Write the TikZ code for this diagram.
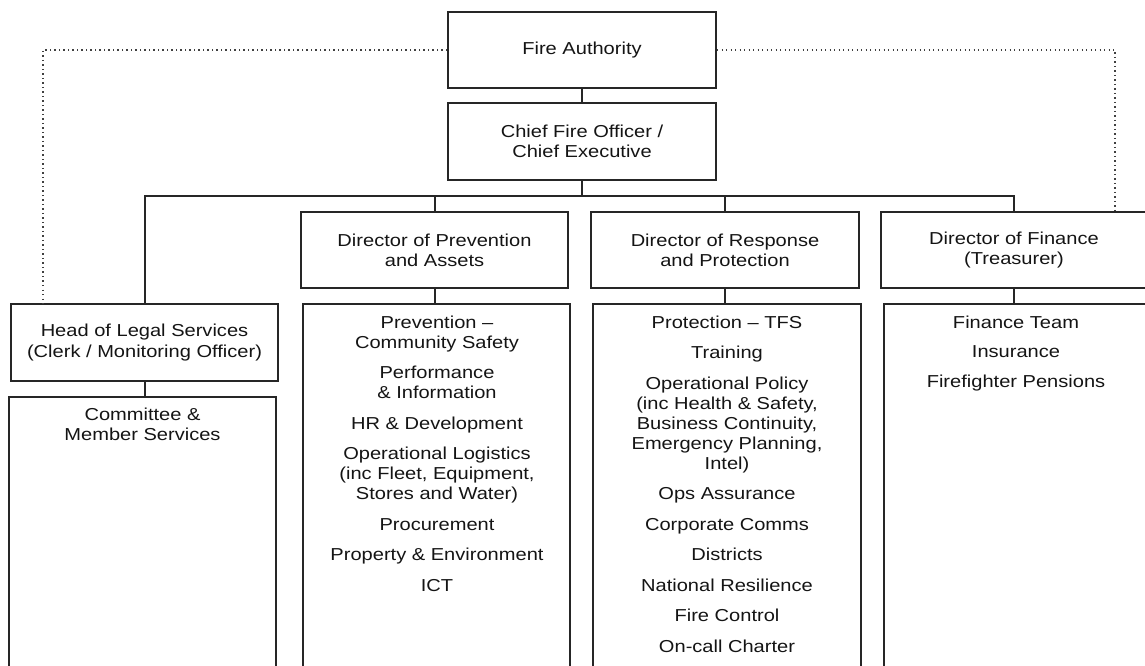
\documentclass[tikz,border=0pt]{standalone}
\usepackage{fontspec}
\setmainfont{Liberation Sans}[FakeStretch=1.16]
\begin{document}
\begin{tikzpicture}[x=1pt,y=-1pt,
  every node/.style={font=\fontsize{17.3}{20.3}\selectfont, text=black!92},
  box/.style={draw=black!85, line width=2pt, inner sep=0pt, align=center},
  openbox/.style={draw=black!85, line width=2pt, inner sep=0pt},
  conn/.style={draw=black!85, line width=2pt},
  dots/.style={draw=black!75, line width=1.5pt, dash pattern=on 1.3pt off 3.2pt},
  txt/.style={inner sep=0pt, anchor=base}]
\useasboundingbox (0,0) rectangle (1145,666);

% boxes
\node[box, minimum width=268pt, minimum height=76pt] (fa) at (582,50) {Fire Authority};
\node[box, minimum width=268pt, minimum height=77pt] (cfo) at (582,141.5) {Chief Fire Officer /\\Chief Executive};
\node[box, minimum width=267pt, minimum height=76pt] (dprev) at (434.5,250) {Director of Prevention\\and Assets};
\node[box, minimum width=268pt, minimum height=76pt] (dresp) at (725,250) {Director of Response\\and Protection};
\node[box, minimum width=266pt, minimum height=76pt] (dfin) at (1014,250) {Director of Finance\\(Treasurer)};
\node[box, minimum width=267pt, minimum height=77pt] (legal) at (144.5,342.5) {Head of Legal Services\\(Clerk / Monitoring Officer)};

% open-bottom boxes
\node[openbox, minimum width=267pt, minimum height=396pt] (sprev) at (436.5,502) {};
\node[openbox, minimum width=268pt, minimum height=396pt] (sresp) at (727,502) {};
\node[openbox, minimum width=264pt, minimum height=396pt] (sfin) at (1016,502) {};
\node[openbox, minimum width=267pt, minimum height=303pt] (comm) at (142.5,548.5) {};

% connectors
\coordinate (bus) at (582,196);
\draw[conn] (fa.south) -- (cfo.north);
\draw[conn] (cfo.south) -- (bus);
\draw[conn] (legal.north) |- (dfin.north |- bus) -- (dfin.north);
\draw[conn] (dprev.north |- bus) -- (dprev.north);
\draw[conn] (dresp.north |- bus) -- (dresp.north);
\draw[conn] (dprev.south) -- (dprev.south |- sprev.north);
\draw[conn] (dresp.south) -- (dresp.south |- sresp.north);
\draw[conn] (dfin.south) -- (dfin.south |- sfin.north);
\draw[conn] (legal.south) -- (legal.south |- comm.north);

% dotted lines
\coordinate (dl) at (43,304);
\coordinate (dr) at (1115,212);
\draw[dots] (fa.west) -| (dl);
\draw[dots] (fa.east) -| (dr);

% committee text
\node[txt] (c1) at (142.5,420) {Committee \&};
\node[txt] (c2) at (142.5,440) {Member Services};

% prevention text
\node[txt] (p1) at (437,328) {Prevention –};
\node[txt] (p2) at (437,348) {Community Safety};
\node[txt] (p3) at (437,378.5) {Performance};
\node[txt] (p4) at (437,398.5) {\& Information};
\node[txt] (p5) at (437,429) {HR \& Development};
\node[txt] (p6) at (437,459.5) {Operational Logistics};
\node[txt] (p7) at (437,479.5) {(inc Fleet, Equipment,};
\node[txt] (p8) at (437,499.5) {Stores and Water)};
\node[txt] (p9) at (437,530) {Procurement};
\node[txt] (p10) at (437,560.5) {Property \& Environment};
\node[txt] (p11) at (437,591) {ICT};

% response text
\node[txt] (r1) at (727,328) {Protection – TFS};
\node[txt] (r2) at (727,358.5) {Training};
\node[txt] (r3) at (727,389) {Operational Policy};
\node[txt] (r4) at (727,409) {(inc Health \& Safety,};
\node[txt] (r5) at (727,429) {Business Continuity,};
\node[txt] (r6) at (727,449) {Emergency Planning,};
\node[txt] (r7) at (727,469) {Intel)};
\node[txt] (r8) at (727,499.5) {Ops Assurance};
\node[txt] (r9) at (727,530) {Corporate Comms};
\node[txt] (r10) at (727,560.5) {Districts};
\node[txt] (r11) at (727,591) {National Resilience};
\node[txt] (r12) at (727,621.5) {Fire Control};
\node[txt] (r13) at (727,652) {On-call Charter};

% finance text
\node[txt] (f1) at (1016,328) {Finance Team};
\node[txt] (f2) at (1016,357.5) {Insurance};
\node[txt] (f3) at (1016,387) {Firefighter Pensions};
\end{tikzpicture}
\end{document}
